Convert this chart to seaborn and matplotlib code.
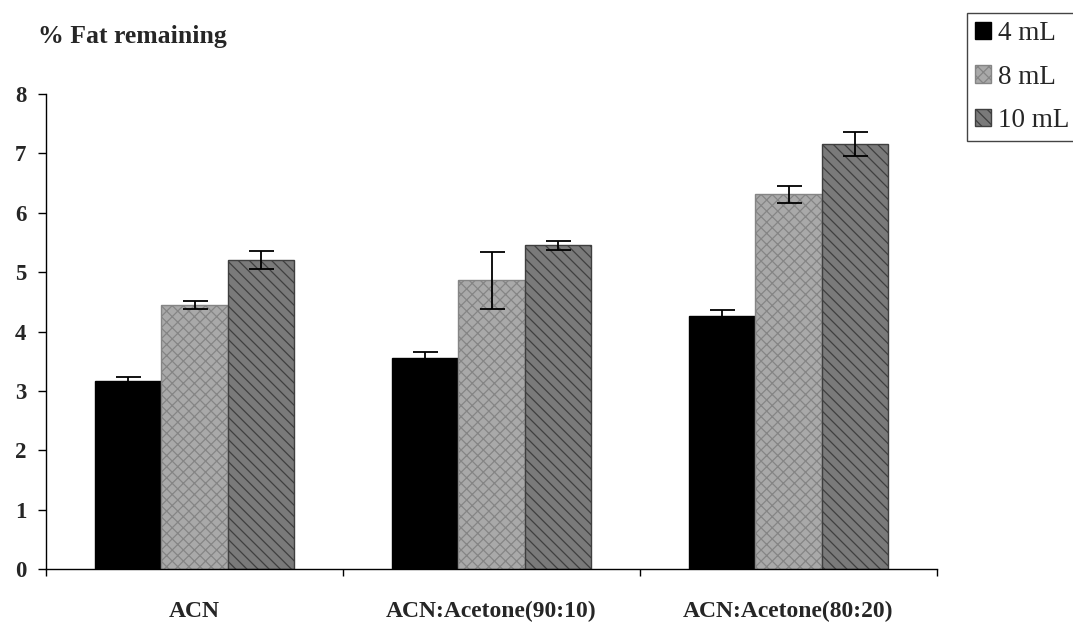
import numpy as np
import pandas as pd
import matplotlib
matplotlib.use("Agg")
import matplotlib.pyplot as plt
import seaborn as sns

categories = ["ACN", "ACN:Acetone(90:10)", "ACN:Acetone(80:20)"]
volumes = ["4 mL", "8 mL", "10 mL"]
fat_4ml = [3.16, 3.56, 4.26]
fat_8ml = [4.45, 4.86, 6.31]
fat_10ml = [5.20, 5.45, 7.16]
err_4ml = [0.07, 0.10, 0.11]
err_8ml = [0.07, 0.48, 0.14]
err_10ml = [0.15, 0.08, 0.20]

values = {"4 mL": fat_4ml, "8 mL": fat_8ml, "10 mL": fat_10ml}
errors = {"4 mL": err_4ml, "8 mL": err_8ml, "10 mL": err_10ml}

rows = []
for v in volumes:
    for c, y in zip(categories, values[v]):
        rows.append({"Solvent": c, "Volume": v, "Fat": y})
df = pd.DataFrame(rows)

sns.set_theme(style="white")
plt.rcParams["font.family"] = ["Liberation Serif", "DejaVu Serif"]
plt.rcParams["hatch.linewidth"] = 0.9

fig = plt.figure(figsize=(10.73, 6.25), dpi=100)
ax = fig.add_axes([46 / 1073, 1 - 569 / 625, (937 - 46) / 1073, (569 - 94) / 625])

palette = {"4 mL": "#000000", "8 mL": "#a9a9a9", "10 mL": "#7a7a7a"}
sns.barplot(data=df, x="Solvent", y="Fat", hue="Volume", order=categories,
            hue_order=volumes, palette=palette, saturation=1, width=0.667,
            errorbar=None, ax=ax, legend=False)

styles = {
    "4 mL": dict(edgecolor="#000000", hatch=None),
    "8 mL": dict(edgecolor="#858585", hatch="xxx"),
    "10 mL": dict(edgecolor="#3f3f3f", hatch="\\\\\\"),
}
handles = []
for cont, v in zip(ax.containers, volumes):
    st = styles[v]
    for p in cont.patches:
        p.set_edgecolor(st["edgecolor"])
        p.set_linewidth(1.0)
        if st["hatch"]:
            p.set_hatch(st["hatch"])
    xs = [p.get_x() + p.get_width() / 2 for p in cont.patches]
    hs = [p.get_height() for p in cont.patches]
    ax.errorbar(xs, hs, yerr=errors[v], fmt="none", ecolor="black",
                elinewidth=1.3, capsize=9, capthick=1.3, zorder=5)
    cont.set_label(v)
    handles.append(cont)

ax.set_xlim(-0.5, 2.5)
ax.set_ylim(0, 8)
ax.set_yticks(range(0, 9))
ax.set_yticklabels([str(i) for i in range(9)], fontsize=16.5, fontweight="bold")
ax.set_xticks(range(len(categories)))
ax.set_xticklabels(categories, fontsize=17, fontweight="bold")
ax.set_xticks([-0.5, 0.5, 1.5, 2.5], minor=True)
ax.tick_params(axis="x", which="major", length=0, pad=23)
ax.tick_params(axis="x", which="minor", length=5, width=1, color="#000000",
               direction="out", bottom=True)
ax.tick_params(axis="y", length=6, width=1, color="#000000", direction="out",
               left=True, pad=8)
ax.set_xlabel("")
ax.set_ylabel("")
for s in ["top", "right"]:
    ax.spines[s].set_visible(False)
for s in ["left", "bottom"]:
    ax.spines[s].set_color("#000000")
    ax.spines[s].set_linewidth(1.0)

fig.text(38 / 1073, 1 - 37 / 625, "% Fat remaining", fontsize=18.5,
         fontweight="bold", va="center", ha="left")

leg = fig.legend(handles=handles, labels=volumes, loc="upper left",
                 bbox_to_anchor=(967 / 1073, 1 - 13 / 625),
                 prop={"size": 19.5}, frameon=True, fancybox=False,
                 edgecolor="#444444", framealpha=1, borderpad=0.3,
                 labelspacing=0.68, handlelength=0.6, handleheight=0.6,
                 handletextpad=0.25, borderaxespad=0)
leg.get_frame().set_linewidth(1.0)

fig.savefig("out.png", dpi=100)
